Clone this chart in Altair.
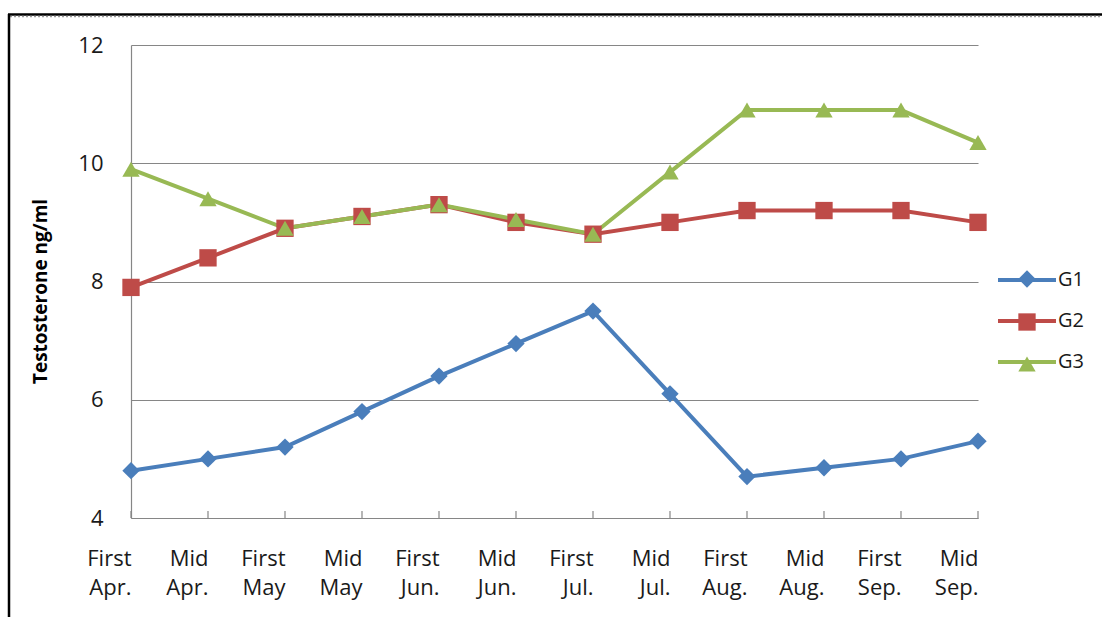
import altair as alt
import pandas as pd

categories = ["First Apr.", "Mid Apr.", "First May", "Mid May", "First Jun.", "Mid Jun.",
              "First Jul.", "Mid Jul.", "First Aug.", "Mid Aug.", "First Sep.", "Mid Sep."]
g1 = [4.8, 5.0, 5.2, 5.8, 6.4, 6.95, 7.5, 6.1, 4.7, 4.85, 5.0, 5.3]
g2 = [7.9, 8.4, 8.9, 9.1, 9.3, 9.0, 8.8, 9.0, 9.2, 9.2, 9.2, 9.0]
g3 = [9.9, 9.4, 8.9, 9.1, 9.3, 9.05, 8.8, 9.85, 10.9, 10.9, 10.9, 10.35]
groups = ["G1", "G2", "G3"]
marker_keys = ["P1", "P2", "P3"]
colors = ["#4A7EBB", "#BE4B48", "#98B954"]
shapes = ["diamond", "square", "triangle-up"]
y_ticks = [4, 6, 8, 10, 12]

rows = []
for g, mk, vals in zip(groups, marker_keys, [g1, g2, g3]):
    for c, v in zip(categories, vals):
        rows.append({"Period": c, "Group": g, "Marker": mk, "Value": v})
df = pd.DataFrame(rows)
cat_df = pd.DataFrame({"Period": categories})
frame_df = pd.DataFrame({"k": [0]})

W, H = 847, 473
PAD_L, PAD_T = 131, 45
FONT = "Open Sans"
GRID = "#868686"

xscale = alt.Scale(type="point", padding=0, domain=categories)
yscale = alt.Scale(domain=[4, 12], nice=False)

x_enc = alt.X("Period:N", scale=xscale, sort=categories,
              axis=alt.Axis(title=None, labelExpr="split(datum.label, ' ')", labelAngle=0,
                            labelFont=FONT, labelFontSize=22, labelColor="#1a1a1a",
                            labelPadding=40, labelLineHeight=29, ticks=False,
                            domainColor=GRID, domainWidth=1.2, grid=False))
y_enc = alt.Y("Value:Q", scale=yscale,
              axis=alt.Axis(values=y_ticks, format="d", title="Testosterone ng/ml",
                            titleFont=FONT, titleFontWeight="bold", titleFontSize=19,
                            titleColor="#000", titlePadding=27, titleY=246,
                            labelFont=FONT, labelFontSize=22, labelColor="#1a1a1a",
                            labelPadding=28, ticks=False, grid=True, gridColor=GRID,
                            gridWidth=1.2, domainColor=GRID, domainWidth=1.2))

lines = alt.Chart(df).mark_line(strokeWidth=4).encode(
    x=x_enc, y=y_enc,
    color=alt.Color("Group:N", scale=alt.Scale(domain=groups, range=colors),
                    legend=alt.Legend(orient="none", legendX=865, legendY=204, title=None,
                                      symbolType="stroke", symbolSize=3364,
                                      symbolStrokeWidth=4, labelFont=FONT,
                                      labelFontSize=20, labelColor="#1a1a1a",
                                      labelOffset=0, rowPadding=-23)),
    order=alt.Order("Group:N"),
)

marker_legend = alt.Legend(orient="none", legendX=886, legendY=224, title=None,
                           symbolSize=300, labelExpr="''", labelOpacity=0, labelFontSize=20,
                           rowPadding=19, symbolOpacity=1)
points = alt.Chart(df).mark_point(filled=True, size=300, opacity=1).encode(
    x=alt.X("Period:N", scale=xscale, sort=categories),
    y=alt.Y("Value:Q", scale=yscale),
    color=alt.Color("Marker:N", scale=alt.Scale(domain=marker_keys, range=colors),
                    legend=marker_legend),
    shape=alt.Shape("Marker:N", scale=alt.Scale(domain=marker_keys, range=shapes),
                    legend=marker_legend),
)

inner_ticks = alt.Chart(cat_df).mark_rule(color=GRID, strokeWidth=1.2).encode(
    x=alt.X("Period:N", scale=xscale, sort=categories),
    y=alt.value(H - 7), y2=alt.value(H))

top_line = alt.Chart(frame_df).mark_rule(color="black", strokeWidth=2.5).encode(
    x=alt.value(-123), x2=alt.value(1102 - PAD_L), y=alt.value(-30.5))
dotted = alt.Chart(frame_df).mark_rule(color="#9a9a9a", strokeWidth=1.5, strokeDash=[2, 2]).encode(
    x=alt.value(-121), x2=alt.value(1102 - PAD_L), y=alt.value(-28.5))
left_line = alt.Chart(frame_df).mark_rule(color="black", strokeWidth=2.5).encode(
    x=alt.value(-122), y=alt.value(-31), y2=alt.value(617 - PAD_T))

chart = alt.layer(inner_ticks, lines, points, top_line, dotted, left_line).resolve_scale(
    color="independent", shape="independent").resolve_legend(
    color="independent", shape="independent").properties(
    width=W, height=H,
    autosize=alt.AutoSizeParams(type="none"),
    padding={"left": PAD_L, "top": PAD_T, "right": 1102 - PAD_L - W, "bottom": 617 - PAD_T - H},
    background="white",
).configure_view(stroke=None)

chart.save("out.html", embed_options={"renderer": "svg", "actions": False})
